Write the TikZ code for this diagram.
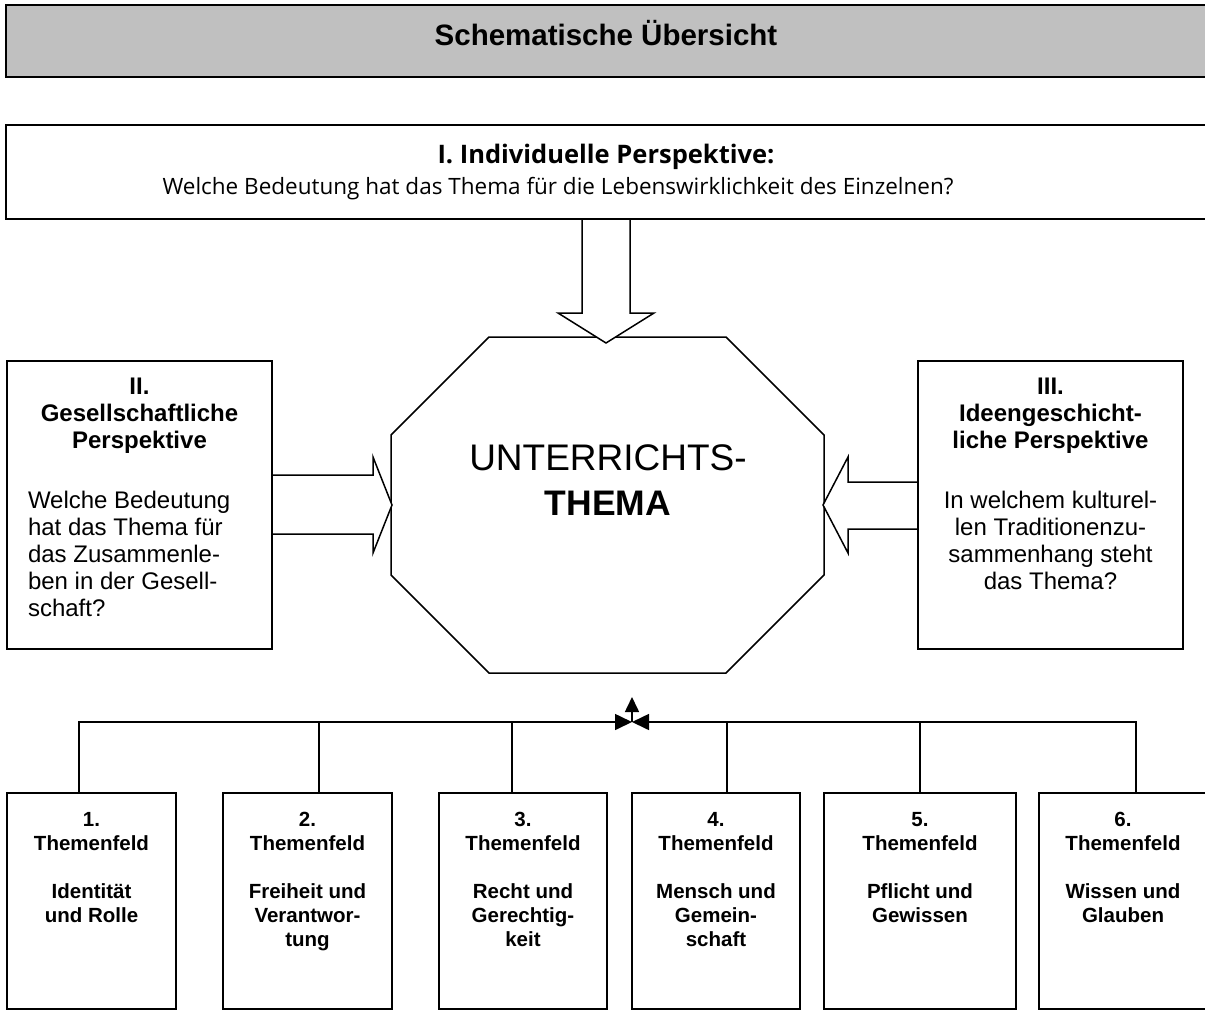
\documentclass[tikz,border=0pt]{standalone}
\usepackage{fontspec}
\setmainfont{Liberation Sans}
\newfontfamily\osans{Open Sans}
\usetikzlibrary{calc,arrows.meta}
\definecolor{titlegray}{RGB}{192,192,192}
\tikzset{
  frame/.style={draw=black, line width=1.8pt, fill=white, inner sep=0pt, outer sep=0pt, anchor=north west},
  outline/.style={draw=black, line width=1.5pt, fill=white, line join=miter},
  tree/.style={draw=black, line width=1.6pt},
  tipH/.style={-{Triangle[length=17pt,width=16pt]}},
  tipU/.style={-{Triangle[length=15pt,width=14pt]}},
  txt/.style={inner sep=0pt, outer sep=0pt},
  headtxt/.style={txt, anchor=north, align=center, font=\fontsize{24}{27}\selectfont\bfseries},
  bodytxt/.style={txt, font=\fontsize{24}{27}\selectfont},
  fieldtxt/.style={txt, anchor=north, align=center, font=\fontsize{20.5}{24}\selectfont\bfseries},
}
\begin{document}
\begin{tikzpicture}[x=1pt,y=-1pt]
\useasboundingbox (0,0) rectangle (1205,1010);
\clip (0,0) rectangle (1205,1010);

% octagon
\coordinate (o1) at (489,337);
\coordinate (o2) at (726,337);
\coordinate (o3) at (824,435);
\coordinate (o4) at (824,575);
\coordinate (o5) at (726,673);
\coordinate (o6) at (489,673);
\coordinate (o7) at (391,575);
\coordinate (o8) at (391,435);
\coordinate (oN) at (606,337);
\coordinate (oW) at (391,505);
\coordinate (oE) at (824,505);
\draw[outline] (o1) -- (o2) -- (o3) -- (o4) -- (o5) -- (o6) -- (o7) -- (o8) -- cycle;
\node[txt, anchor=north, align=center, font=\fontsize{37}{45}\selectfont] (thema) at ($(oN)+(2,107.5)$)
  {UNTERRICHTS-\\{\fontsize{35.5}{45}\selectfont\bfseries THEMA}};

% boxes (positions)
\coordinate (IboxNW) at (6,125);
\coordinate (IIboxNW) at (7,361);
\coordinate (IIIboxNW) at (918,361);
\path (IboxNW) ++(607,94) coordinate (IboxS);
\path (IIboxNW) ++(265,144) coordinate (IIboxE);
\path (IIIboxNW) ++(0,144) coordinate (IIIboxW);

% block arrows
\draw[outline] ($(oN |- IboxS)+(-24,0)$) -- ($(oN)+(-24,-24)$) -- ($(oN)+(-48,-24)$) -- ($(oN)+(0,6)$)
  -- ($(oN)+(48,-24)$) -- ($(oN)+(24,-24)$) -- ($(oN |- IboxS)+(24,0)$);
\draw[outline] ($(IIboxE)+(0,-30)$) -- ($(oW)+(-18,-30)$) -- ($(oW)+(-18,-48)$) -- ($(oW)+(1,0)$)
  -- ($(oW)+(-18,48)$) -- ($(oW)+(-18,29)$) -- ($(IIboxE)+(0,29)$);
\draw[outline] ($(IIIboxW)+(0,-23)$) -- ($(oE)+(24,-23)$) -- ($(oE)+(24,-48)$) -- ($(oE)+(-1,0)$)
  -- ($(oE)+(24,48)$) -- ($(oE)+(24,24)$) -- ($(IIIboxW)+(0,24)$);

% title
\node[frame, fill=titlegray, line width=2.2pt, minimum width=1214pt, minimum height=72pt] (title) at (6,5) {};
\node[txt, anchor=base, font=\fontsize{29.5}{34}\selectfont\bfseries] (titletxt)
  at ($(title.north west)+(600,40)$) {Schematische Übersicht};

% I
\node[frame, line width=2pt, minimum width=1214pt, minimum height=94pt] (Ibox) at (IboxNW) {};
\node[txt, anchor=base, font=\osans\fontsize{25.5}{30}\selectfont\bfseries] (Ihead)
  at ($(Ibox.north west)+(600,38)$) {I. Individuelle Perspektive:};
\node[txt, anchor=base, font=\osans\fontsize{22.5}{27}\selectfont] (Ibody)
  at ($(Ibox.north west)+(552,69)$) {Welche Bedeutung hat das Thema für die Lebenswirklichkeit des Einzelnen?};

% II
\node[frame, minimum width=265pt, minimum height=288pt] (IIbox) at (IIboxNW) {};
\node[headtxt] (IIhead) at ($(IIbox.north)+(0,16.8)$) {II.\\Gesellschaftliche\\Perspektive};
\node[bodytxt, anchor=north west, align=left] (IIbody) at ($(IIbox.north west)+(21,129.8)$)
  {Welche Bedeutung\\hat das Thema für\\das Zusammenle-\\ben in der Gesell-\\schaft?};

% III
\node[frame, minimum width=265pt, minimum height=288pt] (IIIbox) at (IIIboxNW) {};
\node[headtxt] (IIIhead) at ($(IIIbox.north)+(0,16.8)$) {III.\\Ideengeschicht-\\liche Perspektive};
\node[bodytxt, anchor=north, align=center] (IIIbody) at ($(IIIbox.north)+(0,129.8)$)
  {In welchem kulturel-\\len Traditionenzu-\\sammenhang steht\\das Thema?};

% Themenfelder
\node[frame, minimum width=169pt, minimum height=216pt] (t1) at (7,793) {};
\node[frame, minimum width=169pt, minimum height=216pt] (t2) at (223,793) {};
\node[frame, minimum width=168pt, minimum height=216pt] (t3) at (439,793) {};
\node[frame, minimum width=168pt, minimum height=216pt] (t4) at (632,793) {};
\node[frame, minimum width=192pt, minimum height=216pt] (t5) at (824,793) {};
\node[frame, minimum width=168pt, minimum height=216pt] (t6) at (1039,793) {};

\node[fieldtxt] (t1txt) at ($(t1.north)+(0,19.3)$) {1.\\Themenfeld\\[24pt]Identität\\und Rolle};
\node[fieldtxt] (t2txt) at ($(t2.north)+(0,19.3)$) {2.\\Themenfeld\\[24pt]Freiheit und\\Verantwor-\\tung};
\node[fieldtxt] (t3txt) at ($(t3.north)+(0,19.3)$) {3.\\Themenfeld\\[24pt]Recht und\\Gerechtig-\\keit};
\node[fieldtxt] (t4txt) at ($(t4.north)+(0,19.3)$) {4.\\Themenfeld\\[24pt]Mensch und\\Gemein-\\schaft};
\node[fieldtxt] (t5txt) at ($(t5.north)+(0,19.3)$) {5.\\Themenfeld\\[24pt]Pflicht und\\Gewissen};
\node[fieldtxt] (t6txt) at ($(t6.north)+(0,19.3)$) {6.\\Themenfeld\\[24pt]Wissen und\\Glauben};

% tree
\coordinate (J) at (632,722);
\coordinate (Jt) at (632,697);
\coordinate (d1) at ($(t1.north west)+(72,0)$);
\coordinate (d2) at ($(t2.north west)+(96,0)$);
\coordinate (d3) at ($(t3.north west)+(73,0)$);
\coordinate (d4) at ($(t4.north west)+(95,0)$);
\coordinate (d5) at (t5.north);
\coordinate (d6) at ($(t6.north west)+(97,0)$);
\draw[tree, tipH] (d1) |- (J);
\draw[tree, tipH] (d6) |- (J);
\draw[tree] (d2) -- (d2 |- J);
\draw[tree] (d3) -- (d3 |- J);
\draw[tree] (d4) -- (d4 |- J);
\draw[tree] (d5) -- (d5 |- J);
\draw[tree, tipU] (J) -- (Jt);
\end{tikzpicture}
\end{document}
